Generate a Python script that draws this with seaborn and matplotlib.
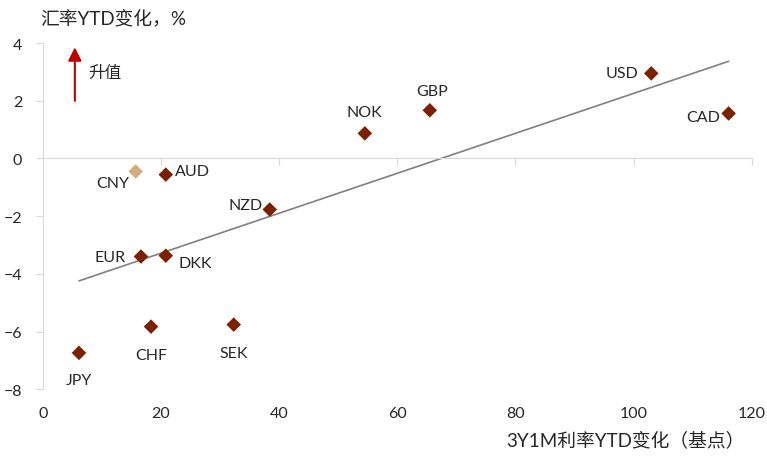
import numpy as np
import pandas as pd
import matplotlib
matplotlib.use('Agg')
import matplotlib.pyplot as plt
import seaborn as sns

# values
currencies = ['USD', 'CAD', 'GBP', 'NOK', 'CNY', 'AUD', 'NZD', 'EUR', 'DKK', 'CHF', 'SEK', 'JPY']
rate_chg_bp = [103.0, 116.1, 65.5, 54.5, 15.7, 20.8, 38.4, 16.6, 20.8, 18.3, 32.3, 6.1]
fx_chg_pct = [2.95, 1.56, 1.67, 0.87, -0.45, -0.56, -1.77, -3.40, -3.37, -5.83, -5.76, -6.74]
x_ticks = [0, 20, 40, 60, 80, 100, 120]
y_ticks = [-8, -6, -4, -2, 0, 2, 4]

# label placement (offset pixels from each point)
label_offsets = {
    'USD': (-29, 0), 'CAD': (-25, -4), 'GBP': (2, 19), 'NOK': (0, 21),
    'CNY': (-23, -12), 'AUD': (27, 4), 'NZD': (-24, 5), 'EUR': (-31, 0),
    'DKK': (29, -7), 'CHF': (0, -28), 'SEK': (0, -28), 'JPY': (0, -27),
}

sns.set_style('white')
plt.rcParams['font.family'] = ['Lato', 'Noto Sans CJK SC', 'DejaVu Sans']

df = pd.DataFrame({'ccy': currencies, 'rate': rate_chg_bp, 'fx': fx_chg_pct})
df['group'] = np.where(df['ccy'] == 'CNY', 'CNY', 'other')

fig = plt.figure(figsize=(7.67, 4.64), dpi=100)
ax = fig.add_axes([0.056, 0.159, 0.924, 0.746])

sns.regplot(data=df, x='rate', y='fx', scatter=False, ci=None, truncate=True,
            line_kws={'color': '#808080', 'lw': 1.2}, ax=ax)
sns.scatterplot(data=df, x='rate', y='fx', hue='group', marker='D', s=55,
                palette={'CNY': '#D2AB7E', 'other': '#7B2000'}, edgecolor='none',
                legend=False, ax=ax, zorder=3)

for _, row in df.iterrows():
    dx, dy = label_offsets[row['ccy']]
    ax.annotate(row['ccy'], (row['rate'], row['fx']), xytext=(dx, dy),
                textcoords='offset pixels', ha='center', va='center', fontsize=11.5)

ax.set_xlim(0, 120)
ax.set_ylim(-8, 4)
ax.set_xticks(x_ticks)
ax.set_yticks(y_ticks)
ax.set_xlabel('')
ax.set_ylabel('')

for side in ['top', 'right']:
    ax.spines[side].set_visible(False)
ax.spines['left'].set_color('#d9d9d9')
ax.spines['bottom'].set_position(('data', 0))
ax.spines['bottom'].set_color('#d9d9d9')
ax.tick_params(axis='x', direction='out', length=5, color='#d9d9d9', bottom=True, labelbottom=False)
ax.tick_params(axis='y', direction='out', length=5, color='#d9d9d9', left=True, pad=10, labelsize=11.5)

sec = ax.secondary_xaxis(0.0)
sec.set_xticks(x_ticks)
sec.spines['bottom'].set_visible(False)
sec.tick_params(length=0, pad=12, labelsize=11.5)

# appreciation arrow
ax.annotate('', xy=(5.4, 3.95), xytext=(5.4, 1.9),
            arrowprops=dict(arrowstyle='-|>', color='#C00000', lw=1.5, mutation_scale=20))
ax.text(7.6, 3.0, '升值', fontsize=12, va='center', ha='left')

fig.text(40 / 767, 1 - 18 / 464, '汇率YTD变化，%', fontsize=13.5, va='center', ha='left')
fig.text(745 / 767, 1 - 440 / 464, '3Y1M利率YTD变化（基点）', fontsize=13.5, va='center', ha='right')

fig.savefig('out.png', dpi=100)
